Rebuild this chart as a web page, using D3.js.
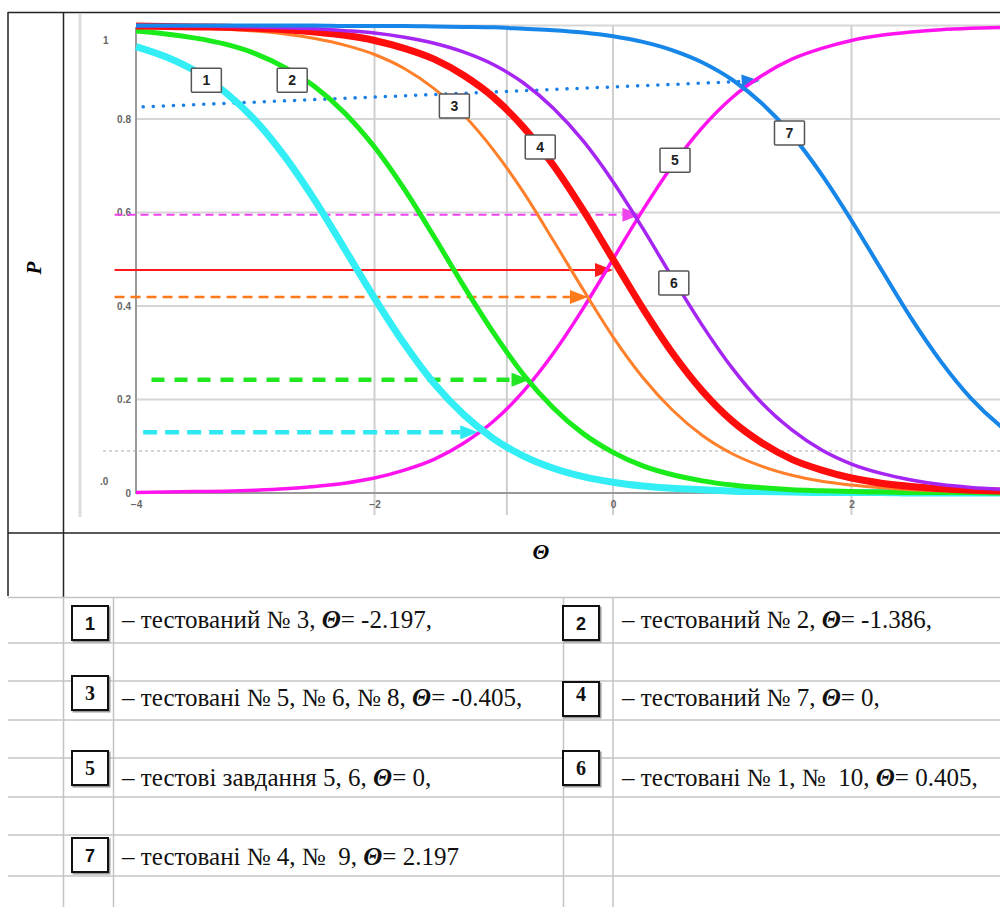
<!DOCTYPE html>
<html>
<head>
<meta charset="utf-8">
<script src="https://cdn.jsdelivr.net/npm/d3@7/dist/d3.min.js"></script>
<style>
  body { margin: 0; background: #fff; }
</style>
</head>
<body>
<svg id="mainsvg" width="1000" height="907"></svg>
<script>
// theta grid the curves were read on
const thetaGrid = [-4, -3.75, -3.5, -3.25, -3, -2.75, -2.5, -2.25, -2, -1.75, -1.5, -1.25, -1, -0.75, -0.5, -0.25,
  0, 0.25, 0.5, 0.75, 1, 1.25, 1.5, 1.75, 2, 2.25, 2.5, 2.75, 3, 3.25, 3.5];

// probability values
const curve1 = [0.955, 0.933, 0.902, 0.857, 0.797, 0.719, 0.626, 0.522, 0.417, 0.319, 0.234, 0.167, 0.116, 0.079, 0.053, 0.035,
  0.023, 0.015, 0.010, 0.007, 0.004, 0.003, 0.002, 0.001, 0.001, 0.001, 0, 0, 0, 0, 0];
const curve2 = [0.988, 0.982, 0.973, 0.960, 0.940, 0.910, 0.869, 0.813, 0.740, 0.650, 0.548, 0.442, 0.342, 0.253, 0.182, 0.127,
  0.087, 0.058, 0.039, 0.026, 0.017, 0.011, 0.007, 0.005, 0.003, 0.002, 0.001, 0.001, 0.001, 0, 0];
const curve3 = [0.998, 0.997, 0.995, 0.992, 0.988, 0.982, 0.972, 0.958, 0.938, 0.908, 0.865, 0.808, 0.733, 0.643, 0.540, 0.435,
  0.334, 0.247, 0.177, 0.123, 0.084, 0.057, 0.038, 0.025, 0.017, 0.011, 0.007, 0.005, 0.003, 0.002, 0.001];
const curve4 = [0.999, 0.998, 0.997, 0.996, 0.994, 0.991, 0.986, 0.979, 0.968, 0.951, 0.928, 0.893, 0.846, 0.782, 0.701, 0.605,
  0.5, 0.395, 0.299, 0.218, 0.154, 0.107, 0.072, 0.049, 0.032, 0.021, 0.014, 0.009, 0.006, 0.004, 0.003];
const curve5 = [0.001, 0.002, 0.003, 0.004, 0.006, 0.009, 0.014, 0.021, 0.032, 0.049, 0.072, 0.107, 0.154, 0.218, 0.299, 0.395,
  0.5, 0.605, 0.701, 0.782, 0.846, 0.893, 0.928, 0.951, 0.968, 0.979, 0.986, 0.991, 0.994, 0.996, 0.997];
const curve6 = [0.999, 0.999, 0.999, 0.998, 0.997, 0.995, 0.993, 0.989, 0.984, 0.975, 0.962, 0.943, 0.916, 0.877, 0.823, 0.753,
  0.666, 0.566, 0.460, 0.358, 0.267, 0.192, 0.135, 0.092, 0.062, 0.042, 0.028, 0.018, 0.012, 0.008, 0.005];
const curve7 = [1, 1, 1, 1, 1, 1, 1, 0.999, 0.999, 0.999, 0.998, 0.997, 0.996, 0.993, 0.990, 0.985,
  0.977, 0.965, 0.947, 0.921, 0.884, 0.833, 0.766, 0.681, 0.583, 0.478, 0.374, 0.281, 0.203, 0.143, 0.098];

const curveIds = ['1', '2', '3', '4', '5', '6', '7'];
// where the numbered boxes sit on the chart (theta, P)
const labelTheta = [-3.41, -2.69, -1.33, -0.61, 0.52, 0.51, 1.48];
const labelP = [0.883, 0.883, 0.828, 0.740, 0.712, 0.449, 0.770];

// arrows: start theta, start P, tip theta, tip P
const arrowIds = ['7', '5', '4', '3', '2', '1'];
const arrowFrom = [[-3.94, 0.826], [-4.18, 0.595], [-4.18, 0.477], [-4.18, 0.419], [-3.87, 0.242], [-3.94, 0.130]];
const arrowTo = [[1.23, 0.882], [0.23, 0.595], [0.0, 0.477], [-0.21, 0.419], [-0.70, 0.242], [-1.13, 0.130]];

const yTicks = [0, 0.2, 0.4, 0.6, 0.8];
const xTicks = [-4, -2, 0, 2];

const legendRows = [
  ['1', 'тестований № 3, ', '= -2.197,'],
  ['2', 'тестований № 2, ', '= -1.386,'],
  ['3', 'тестовані № 5, № 6, № 8, ', '= -0.405,'],
  ['4', 'тестований № 7, ', '= 0,'],
  ['5', 'тестові завдання 5, 6, ', '= 0,'],
  ['6', 'тестовані № 1, №\u00a0 10, ', '= 0.405,'],
  ['7', 'тестовані № 4, №\u00a0 9, ', '= 2.197']
];

const svg = d3.select('#mainsvg');
const serif = '"Liberation Serif", "Times New Roman", serif';
const sans = '"Liberation Sans", Arial, sans-serif';

const xScale = d3.scaleLinear().domain([-4, 0]).range([136, 613]);
const yScale = d3.scaleLinear().domain([0, 1]).range([493, 25.5]);

// table frame
const frame = svg.append('g');
frame.append('line').attr('x1', 8).attr('x2', 1000).attr('y1', 12.5).attr('y2', 12.5).attr('stroke', '#222').attr('stroke-width', 1.5);
frame.append('line').attr('x1', 8).attr('x2', 8).attr('y1', 12).attr('y2', 596).attr('stroke', '#222').attr('stroke-width', 1.5);
frame.append('line').attr('x1', 63.5).attr('x2', 63.5).attr('y1', 12).attr('y2', 597).attr('stroke', '#222').attr('stroke-width', 1.5);
frame.append('line').attr('x1', 8).attr('x2', 1000).attr('y1', 533).attr('y2', 533).attr('stroke', '#222').attr('stroke-width', 1.5);

// legend grid (spreadsheet-like)
const rowLines = [597.5, 643, 681, 720, 758, 797, 835, 876];
rowLines.forEach(y => frame.append('line').attr('x1', 8).attr('x2', 1000).attr('y1', y).attr('y2', y)
  .attr('stroke', '#c4c4c4').attr('stroke-width', 1.5));
[63.5, 113.5, 563.5, 613].forEach(x => frame.append('line').attr('x1', x).attr('x2', x).attr('y1', 598).attr('y2', 907)
  .attr('stroke', '#c4c4c4').attr('stroke-width', 1.5));

// axis titles
svg.append('text').attr('transform', 'translate(41,268) rotate(-90)')
  .attr('text-anchor', 'middle').style('font-family', serif).style('font-size', '21px')
  .style('font-weight', 'bold').style('font-style', 'italic').text('P');
svg.append('text').attr('x', 541).attr('y', 559)
  .attr('text-anchor', 'middle').style('font-family', serif).style('font-size', '22px')
  .style('font-weight', 'bold').style('font-style', 'italic').text('Θ');

// plot area
const plot = svg.append('g');
plot.append('line').attr('x1', 80).attr('x2', 80).attr('y1', 14).attr('y2', 517).attr('stroke', '#ddd').attr('stroke-width', 3);

// grid
plot.selectAll('.hgrid').data([0.2, 0.4, 0.6, 0.8, 1]).enter().append('line')
  .attr('x1', 136).attr('x2', 1000).attr('y1', d => yScale(d)).attr('y2', d => yScale(d))
  .attr('stroke', '#d6d6d6').attr('stroke-width', 2);
plot.selectAll('.vgrid').data([-2, -0.89, 0, 2]).enter().append('line')
  .attr('x1', d => xScale(d)).attr('x2', d => xScale(d)).attr('y1', yScale(1)).attr('y2', 515)
  .attr('stroke', '#cfcfcf').attr('stroke-width', 2);

// light dotted reference line
plot.append('line').attr('x1', 103).attr('x2', 1000).attr('y1', yScale(0.09)).attr('y2', yScale(0.09))
  .attr('stroke', '#c8c8c8').attr('stroke-width', 1.5).attr('stroke-dasharray', '3,3');

// axes
const yAxis = d3.axisLeft(yScale).tickValues(yTicks).tickSize(0).tickPadding(5).tickFormat(d => d === 0 ? '0' : d3.format('.1f')(d));
const xAxis = d3.axisBottom(xScale).tickValues(xTicks).tickSize(0).tickPadding(8).tickFormat(d => d < 0 ? '\u2212' + Math.abs(d) : d);
const gy = plot.append('g').attr('transform', 'translate(136,0)').call(yAxis);
const gx = plot.append('g').attr('transform', 'translate(0,493)').call(xAxis);
[gx, gy].forEach(g => {
  g.select('.domain').remove();
  g.selectAll('text').style('font-family', sans).style('font-size', '10px').style('font-weight', 'bold').attr('fill', '#666');
});
plot.append('line').attr('x1', 136).attr('x2', 136).attr('y1', 27).attr('y2', 494).attr('stroke', '#9a9a9a').attr('stroke-width', 2);
plot.append('line').attr('x1', 135).attr('x2', 1000).attr('y1', 493).attr('y2', 493).attr('stroke', '#999').attr('stroke-width', 2);
// stray labels of the original screenshot
plot.append('text').attr('x', 103).attr('y', 44).text('1')
  .style('font-family', sans).style('font-size', '10px').style('font-weight', 'bold').attr('fill', '#666');
plot.append('text').attr('x', 100).attr('y', 485).text('.0')
  .style('font-family', sans).style('font-size', '10px').style('font-weight', 'bold').attr('fill', '#666');

// arrows
const arrowStyle = {
  '7': {color: '#1a7fe6', width: 3.5, dash: '0.1,10', cap: 'round'},
  '5': {color: '#ee44ee', width: 2, dash: '8,5', cap: 'butt'},
  '4': {color: '#ff1a1a', width: 2, dash: null, cap: 'butt'},
  '3': {color: '#ff7a1a', width: 2.5, dash: '10,6', cap: 'butt'},
  '2': {color: '#22e622', width: 4.5, dash: '13,10', cap: 'butt'},
  '1': {color: '#2ee8f2', width: 4.5, dash: '14,8', cap: 'butt'}
};
arrowIds.forEach((id, i) => {
  const st = arrowStyle[id];
  const x0 = xScale(arrowFrom[i][0]), y0 = yScale(arrowFrom[i][1]);
  const x1 = xScale(arrowTo[i][0]), y1 = yScale(arrowTo[i][1]);
  const ang = Math.atan2(y1 - y0, x1 - x0);
  const len = 18, half = 7;
  const bx = x1 - len * Math.cos(ang), by = y1 - len * Math.sin(ang);
  plot.append('line').attr('x1', x0).attr('y1', y0).attr('x2', bx).attr('y2', by)
    .attr('stroke', st.color).attr('stroke-width', st.width)
    .attr('stroke-dasharray', st.dash).attr('stroke-linecap', st.cap);
  const pts = [[x1, y1],
    [bx + half * Math.sin(ang), by - half * Math.cos(ang)],
    [bx - half * Math.sin(ang), by + half * Math.cos(ang)]];
  plot.append('polygon').attr('points', pts.map(p => p.join(',')).join(' ')).attr('fill', st.color);
});

// curves
const curveStyle = {
  '5': {color: '#ff14f0', width: 3.5},
  '1': {color: '#33eef5', width: 7},
  '2': {color: '#1aeb1a', width: 5},
  '3': {color: '#ff7f2a', width: 3},
  '4': {color: '#ff0d0d', width: 7},
  '6': {color: '#a526f2', width: 3.5},
  '7': {color: '#1686e8', width: 4}
};
const curveData = {'1': curve1, '2': curve2, '3': curve3, '4': curve4, '5': curve5, '6': curve6, '7': curve7};
const line = d3.line().x(d => xScale(d[0])).y(d => yScale(d[1])).curve(d3.curveMonotoneX);
['5', '1', '2', '3', '4', '6', '7'].forEach(id => {
  const pts = thetaGrid.map((t, i) => [t, curveData[id][i]]);
  plot.append('path').datum(pts).attr('d', line).attr('fill', 'none')
    .attr('stroke', curveStyle[id].color).attr('stroke-width', curveStyle[id].width)
    .attr('stroke-linejoin', 'round');
});

// numbered boxes on the chart
curveIds.forEach((id, i) => {
  const cx = xScale(labelTheta[i]), cy = yScale(labelP[i]);
  const g = plot.append('g').attr('transform', `translate(${cx},${cy})`);
  g.append('rect').attr('x', -15).attr('y', -12).attr('width', 30).attr('height', 24)
    .attr('fill', '#fff').attr('stroke', '#555').attr('stroke-width', 1.5).attr('rx', 1);
  g.append('text').attr('text-anchor', 'middle').attr('y', 5).text(id)
    .style('font-family', sans).style('font-size', '14px').style('font-weight', 'bold').attr('fill', '#222');
});

// legend below
const legendCols = [72, 563];
const legendTextX = [122, 622];
const legendBoxTop = [606, 606, 676, 682, 751, 751, 838];
const legendBaseline = [628, 628, 706, 706, 786, 786, 865];
const serifDigits = ['3', '4', '5', '6'];
legendRows.forEach((r, i) => {
  const bx = legendCols[i % 2];
  const by = legendBoxTop[i];
  const g = svg.append('g');
  g.append('rect').attr('x', bx + 1.5).attr('y', by + 1.5).attr('width', 36).attr('height', 34)
    .attr('fill', 'none').attr('stroke', '#999').attr('stroke-width', 2);
  g.append('rect').attr('x', bx).attr('y', by).attr('width', 36).attr('height', 34)
    .attr('fill', '#fff').attr('stroke', '#111').attr('stroke-width', 2);
  const isSerif = serifDigits.includes(r[0]);
  g.append('text').attr('x', bx + 18).attr('y', r[0] === '4' ? by + 19 : by + 24).attr('text-anchor', 'middle')
    .text(r[0]).style('font-family', isSerif ? serif : sans).style('font-size', isSerif ? '20px' : '18px')
    .style('font-weight', 'bold').attr('fill', '#111');
  const t = g.append('text').attr('x', legendTextX[i % 2]).attr('y', legendBaseline[i])
    .style('font-family', serif).style('font-size', '25px').attr('fill', '#111');
  t.append('tspan').text('\u2013 ' + r[1]);
  t.append('tspan').text('Θ').style('font-style', 'italic').style('font-weight', 'bold');
  t.append('tspan').text(r[2]);
});
</script>
</body>
</html>
